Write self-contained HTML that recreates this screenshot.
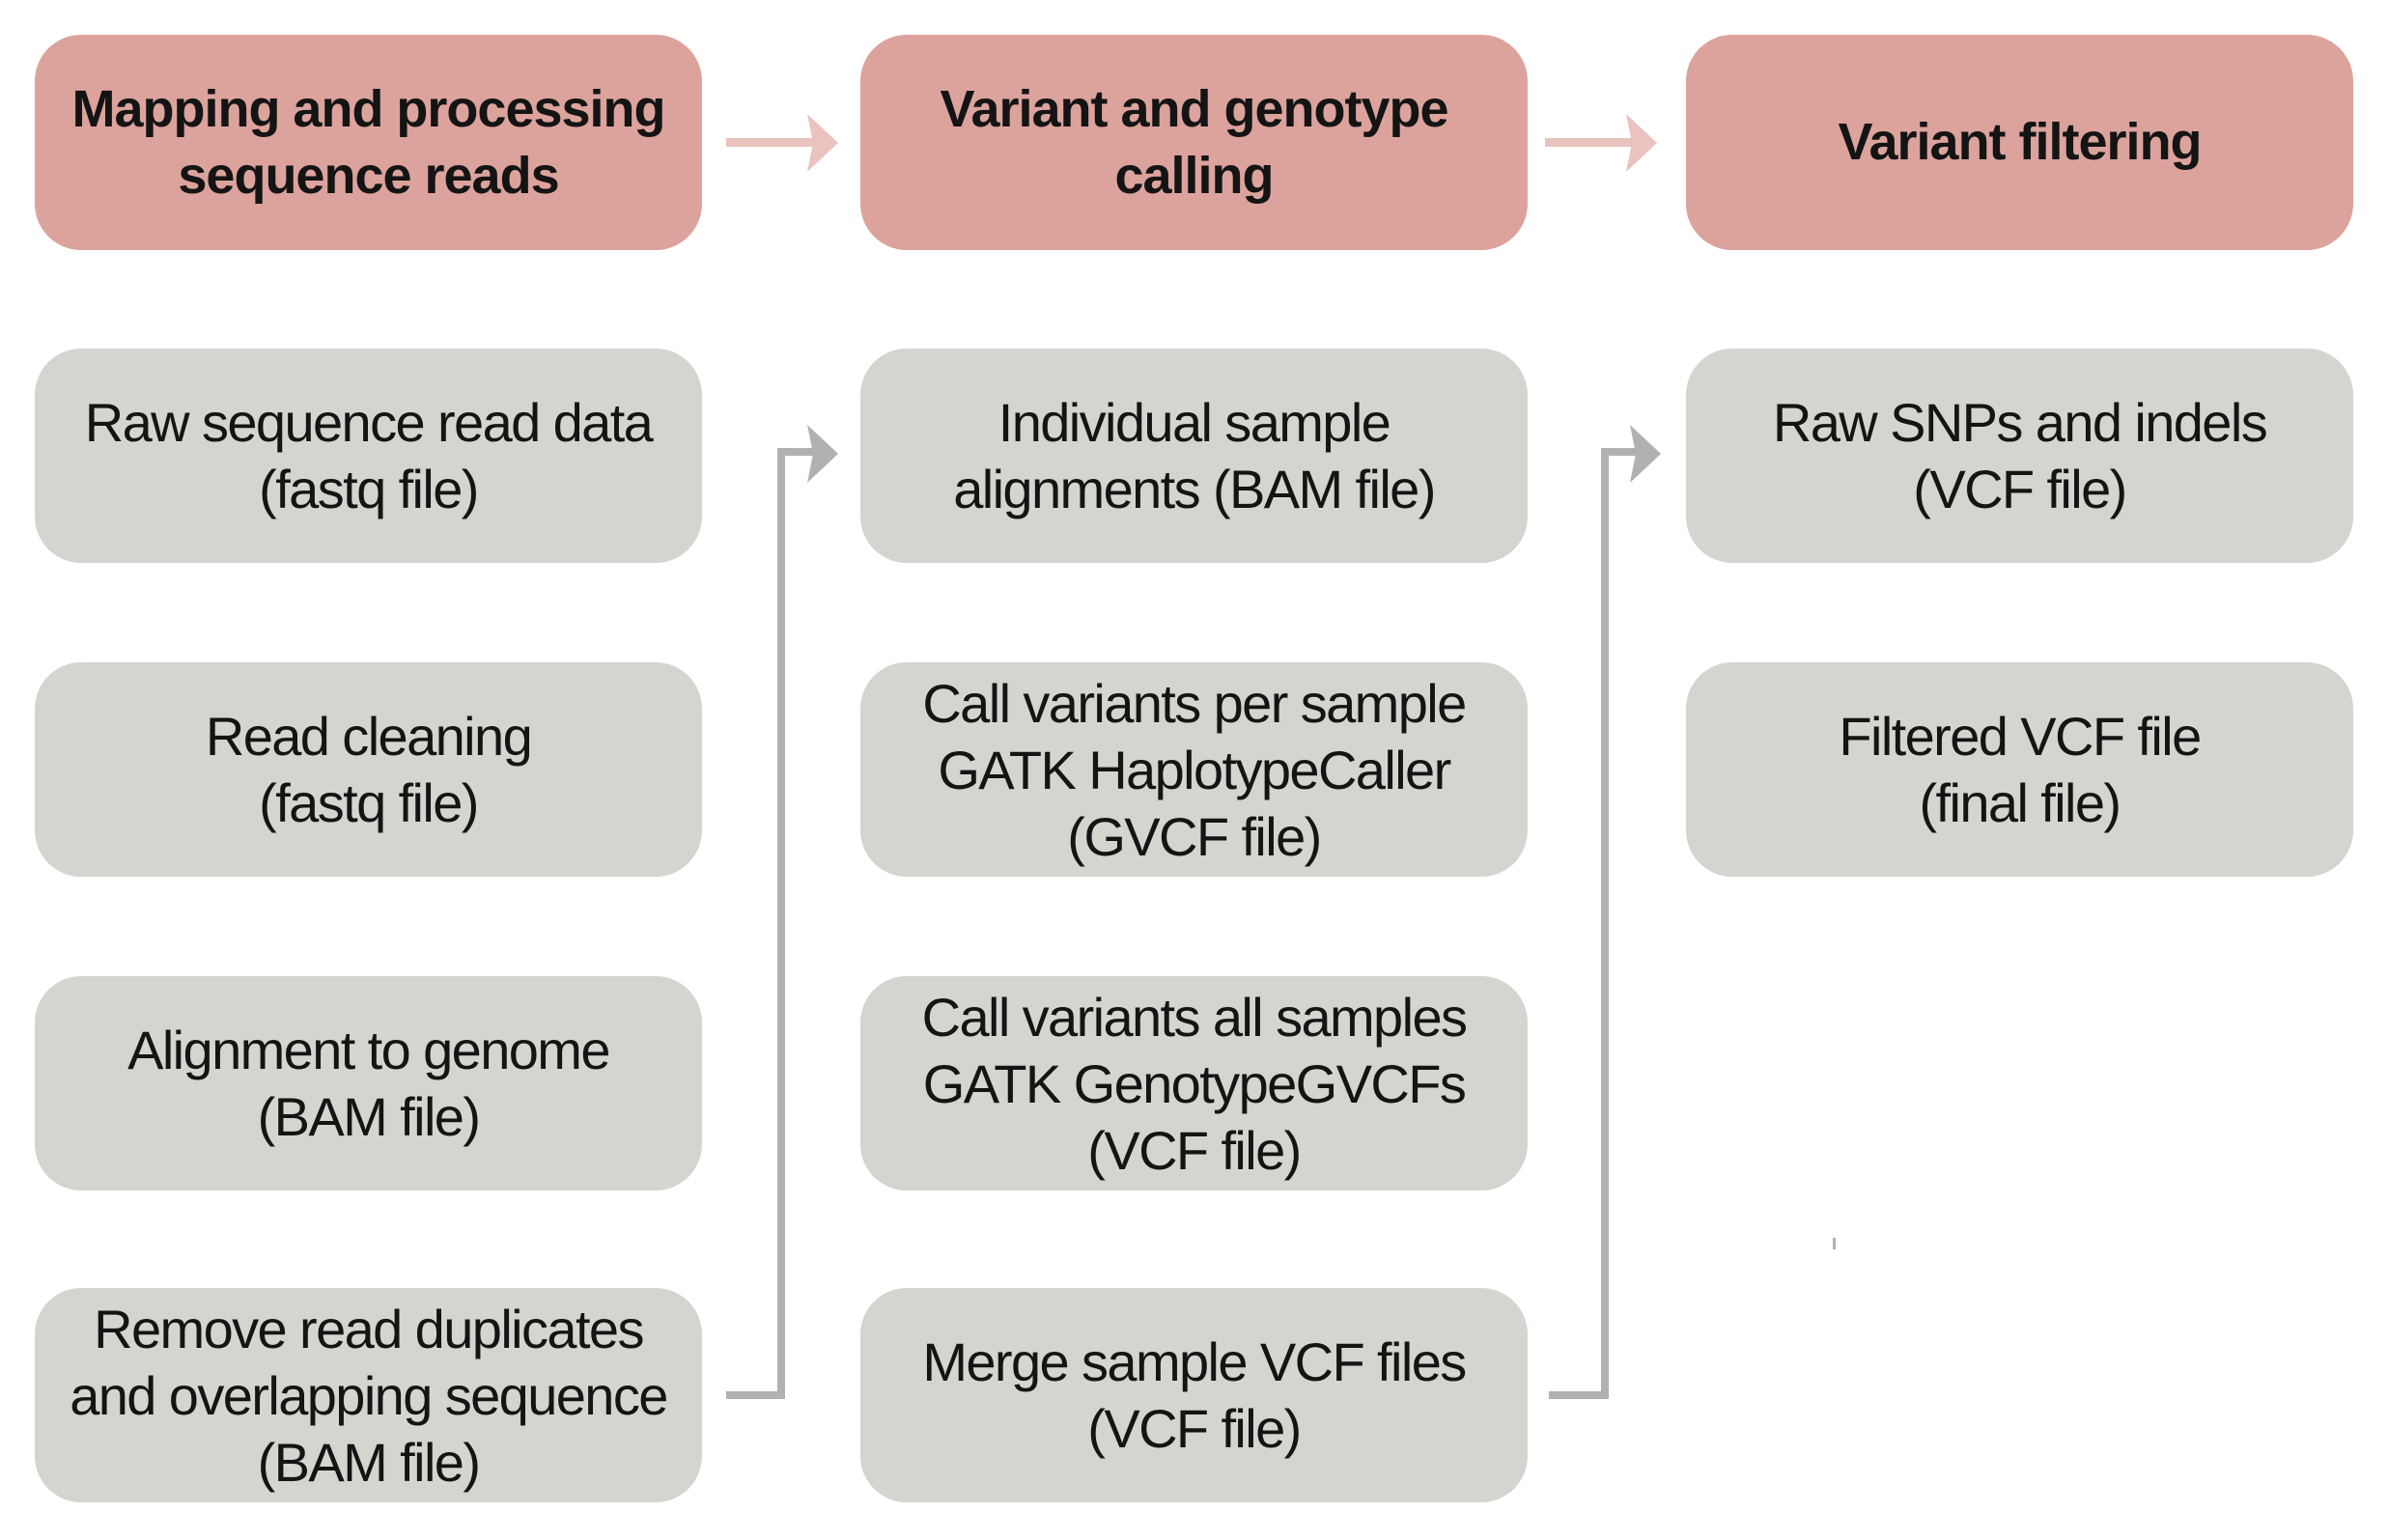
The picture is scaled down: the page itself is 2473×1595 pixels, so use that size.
<!DOCTYPE html>
<html><head><meta charset="utf-8"><style>
html,body{margin:0;padding:0;background:#fff;}
body{width:2473px;height:1595px;position:relative;overflow:hidden;font-family:"Liberation Sans",sans-serif;}
.b{position:absolute;width:691px;border-radius:48px;display:flex;align-items:center;justify-content:center;text-align:center;color:#141414;}
.h{background:#dca39c;font-weight:bold;font-size:54px;line-height:69px;top:36px;height:223px;letter-spacing:-1px;}
.g{background:#d5d4cf;font-size:56px;line-height:69px;height:222px;letter-spacing:-1.6px;}
.c1{left:36px}.c2{left:891px}.c3{left:1746px}
.r1{top:361px}.r2{top:686px}.r3{top:1011px}.r4{top:1334px}
svg{position:absolute;left:0;top:0}
</style></head><body>
<div class="b h c1">Mapping and processing<br>sequence reads</div>
<div class="b h c2">Variant and genotype<br>calling</div>
<div class="b h c3">Variant filtering</div>
<div class="b g c1 r1">Raw sequence read data<br>(fastq file)</div>
<div class="b g c1 r2">Read cleaning<br>(fastq file)</div>
<div class="b g c1 r3">Alignment to genome<br>(BAM file)</div>
<div class="b g c1 r4">Remove read duplicates<br>and overlapping sequence<br>(BAM file)</div>
<div class="b g c2 r1">Individual sample<br>alignments (BAM file)</div>
<div class="b g c2 r2">Call variants per sample<br>GATK HaplotypeCaller<br>(GVCF file)</div>
<div class="b g c2 r3">Call variants all samples<br>GATK GenotypeGVCFs<br>(VCF file)</div>
<div class="b g c2 r4">Merge sample VCF files<br>(VCF file)</div>
<div class="b g c3 r1">Raw SNPs and indels<br>(VCF file)</div>
<div class="b g c3 r2">Filtered VCF file<br>(final file)</div>
<svg width="2473" height="1595">
<g fill="#eac3bf" stroke="none">
<rect x="752" y="143" width="90" height="9"/>
<polygon points="836,118 868,148 836,178 842,148"/>
<rect x="1600" y="143" width="90" height="9"/>
<polygon points="1684,118 1716,148 1684,178 1690,148"/>
</g>
<g fill="none" stroke="#b0b1b3" stroke-width="8">
<polyline points="752,1445 809,1445 809,468 850,468"/>
<polyline points="1604,1445 1662,1445 1662,468 1702,468"/>
</g>
<g fill="#b0b1b3">
<polygon points="836,440 868,470 836,500 842,470"/>
<polygon points="1688,440 1720,470 1688,500 1694,470"/>
<rect x="1898" y="1282" width="3" height="12"/>
</g>
</svg>
</body></html>
